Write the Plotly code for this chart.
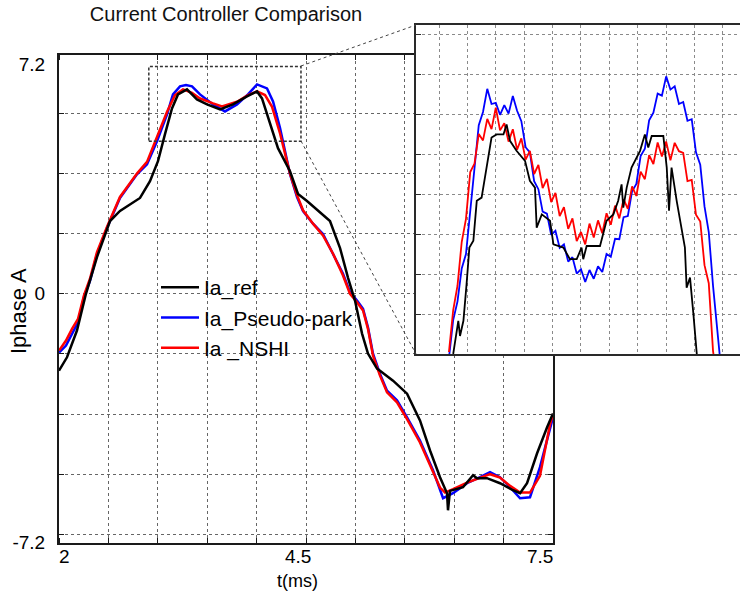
import plotly.graph_objects as go

# ---------------- data: main plot (t in ms, current in A) ----------------
t_ref = [2.000, 2.089, 2.200, 2.300, 2.423, 2.568, 2.679, 2.902, 3.013, 3.102, 3.180,
         3.258, 3.325, 3.425, 3.536, 3.648, 3.793, 3.937, 4.093, 4.205, 4.260, 4.349,
         4.438, 4.572, 4.661, 4.761, 4.828, 5.017, 5.129, 5.218, 5.296, 5.374, 5.440,
         5.541, 5.574, 5.719, 5.875, 6.019, 6.131, 6.242, 6.320, 6.331, 6.353, 6.498,
         6.610, 6.654, 6.765, 6.910, 7.055, 7.133, 7.211, 7.322, 7.433, 7.500]
ia_ref = [-2.30, -1.90, -1.10, 0.00, 1.10, 2.18, 2.48, 2.87, 3.37, 3.97, 4.78,
          5.55, 5.97, 6.12, 5.82, 5.67, 5.52, 5.67, 5.91, 6.06, 5.85, 5.07,
          4.36, 3.67, 2.99, 2.78, 2.63, 2.18, 1.37, 0.48, -0.21, -1.19, -1.79,
          -2.24, -2.30, -2.60, -2.99, -3.79, -4.69, -5.49, -5.97, -6.48, -5.90, -5.79,
          -5.43, -5.52, -5.52, -5.67, -5.88, -5.97, -5.67, -4.78, -4.00, -3.58]

t_pp = [2.000, 2.078, 2.145, 2.212, 2.278, 2.345, 2.423, 2.534, 2.679, 2.868, 2.980,
        3.091, 3.203, 3.269, 3.347, 3.414, 3.481, 3.570, 3.715, 3.848, 3.982, 4.104,
        4.205, 4.316, 4.383, 4.461, 4.572, 4.650, 4.717, 4.828, 4.939, 5.051, 5.162,
        5.240, 5.318, 5.385, 5.440, 5.496, 5.574, 5.652, 5.763, 5.875, 6.019, 6.164,
        6.242, 6.276, 6.387, 6.543, 6.687, 6.799, 6.910, 7.022, 7.133, 7.244, 7.355,
        7.467, 7.500]
ia_pp = [-1.76, -1.55, -1.20, -0.85, -0.10, 0.39, 1.19, 1.97, 2.87, 3.58, 3.88,
         4.57, 5.37, 5.97, 6.21, 6.25, 6.21, 5.97, 5.67, 5.46, 5.67, 5.97,
         6.27, 6.15, 5.76, 4.96, 3.58, 2.90, 2.48, 2.10, 1.79, 1.19, 0.60,
         0.05, -0.20, -0.45, -1.00, -1.79, -2.40, -2.90, -3.19, -3.70, -4.39, -5.28,
         -5.88, -6.12, -5.97, -5.67, -5.49, -5.34, -5.49, -5.79, -6.12, -6.09, -5.19,
         -4.00, -3.70]

t_nshi = [2.000, 2.078, 2.145, 2.212, 2.278, 2.345, 2.423, 2.534, 2.679, 2.868, 2.980,
          3.091, 3.203, 3.292, 3.381, 3.481, 3.570, 3.715, 3.815, 3.982, 4.104, 4.205,
          4.294, 4.372, 4.461, 4.572, 4.650, 4.717, 4.828, 4.939, 5.051, 5.162, 5.240,
          5.318, 5.385, 5.440, 5.496, 5.574, 5.652, 5.763, 5.875, 6.019, 6.164, 6.242,
          6.298, 6.387, 6.543, 6.687, 6.799, 6.910, 7.022, 7.133, 7.244, 7.355, 7.467,
          7.500]
ia_nshi = [-1.70, -1.40, -1.05, -0.75, -0.05, 0.45, 1.25, 2.00, 2.90, 3.60, 3.95,
           4.70, 5.45, 5.95, 6.12, 6.02, 5.85, 5.70, 5.61, 5.75, 5.95, 6.06,
           5.95, 5.60, 4.80, 3.60, 2.95, 2.50, 2.10, 1.75, 1.20, 0.55, 0.00,
           -0.25, -0.50, -1.05, -1.85, -2.45, -2.95, -3.25, -3.75, -4.45, -5.30, -5.80,
           -5.95, -5.85, -5.65, -5.50, -5.40, -5.50, -5.75, -5.95, -5.95, -5.45, -3.90,
           -3.60]

# ---------------- data: zoomed inset (grid units) ----------------
inset_u = [0.35, 0.50, 0.65, 0.80, 0.95, 1.10, 1.25, 1.40, 1.55, 1.70, 1.85, 2.00, 2.15,
           2.30, 2.45, 2.60, 2.75, 2.90, 3.05, 3.20, 3.35, 3.50, 3.65, 3.80, 3.95, 4.10,
           4.25, 4.40, 4.55, 4.70, 4.85, 5.00, 5.15, 5.30, 5.45, 5.60, 5.75, 5.90, 6.05,
           6.20, 6.35, 6.50, 6.65, 6.80, 6.95, 7.10, 7.25, 7.40, 7.55, 7.70, 7.85, 8.00,
           8.15, 8.30, 8.45, 8.60, 8.75, 8.90, 9.05, 9.20, 9.35, 9.50, 9.65, 9.80, 9.95]
inset_pp = [-0.10, 0.85, 1.31, 2.14, 2.50, 3.54, 4.53, 5.72, 6.05, 6.63, 6.25, 6.28, 5.98,
            6.22, 6.01, 6.45, 6.08, 5.82, 5.17, 5.04, 4.32, 4.12, 3.56, 3.51, 2.98, 3.08,
            2.65, 2.74, 2.31, 2.42, 2.01, 2.12, 1.80, 2.10, 1.88, 2.19, 2.05, 2.50, 2.43,
            2.88, 2.87, 3.42, 3.45, 4.07, 4.25, 4.95, 5.13, 5.84, 6.03, 6.51, 6.46, 6.94,
            6.61, 6.69, 6.25, 6.30, 5.83, 5.87, 5.04, 4.73, 3.69, 3.05, 1.71, 0.52, -0.50]
inset_nshi = [0.05, 1.10, 1.70, 2.80, 3.38, 4.55, 4.76, 5.50, 5.34, 5.88, 5.62, 6.16, 5.59,
              5.77, 5.31, 5.62, 5.11, 5.39, 4.86, 5.08, 4.50, 4.73, 4.15, 4.38, 3.80, 4.03,
              3.45, 3.67, 3.13, 3.39, 2.82, 3.05, 2.74, 3.26, 2.91, 3.34, 3.02, 3.52, 3.23,
              3.71, 3.39, 3.87, 3.63, 4.19, 3.95, 4.56, 4.37, 4.97, 4.75, 5.29, 4.94, 5.31,
              4.84, 5.28, 5.07, 5.03, 4.32, 4.35, 3.48, 3.31, 2.22, 1.77, 0.08, -0.80, -1.50]
inset_u_ref = [0.50, 0.68, 0.74, 0.86, 0.97, 1.07, 1.21, 1.33, 1.50, 1.68, 1.85, 2.03, 2.27,
               2.38, 2.50, 2.73, 3.03, 3.20, 3.38, 3.44, 3.62, 3.91, 4.03, 4.38, 4.61, 4.85,
               5.02, 5.08, 5.20, 5.67, 5.90, 6.14, 6.31, 6.43, 6.49, 6.61, 6.78, 7.08, 7.25,
               7.37, 7.49, 7.90, 8.02, 8.10, 8.19, 8.37, 8.54, 8.66, 8.72, 8.84, 8.96, 9.07,
               9.15]
inset_ref = [0.00, 0.83, 0.45, 0.83, 1.74, 2.66, 2.83, 3.83, 3.91, 4.66, 5.41, 5.49, 5.49,
             5.74, 5.33, 5.08, 4.83, 4.33, 4.16, 3.16, 3.49, 3.33, 2.74, 2.66, 2.37, 2.37,
             2.66, 2.37, 2.70, 2.70, 3.33, 3.49, 3.83, 4.24, 3.66, 4.16, 4.66, 5.08, 5.49,
             5.16, 5.45, 5.45, 4.66, 3.58, 4.66, 3.83, 3.16, 2.66, 1.66, 1.91, 0.99, 0.00,
             -0.60]

series_names = ["Ia_ref", "Ia_Pseudo-park", "Ia _NSHI"]
series_colors = ["#000000", "#0000ff", "#ff0000"]

x_tick_labels = ["2", "4.5", "7.5"]
x_tick_pos = [2.056, 4.66, 7.355]
y_tick_labels = ["7.2", "0", "-7.2"]
y_tick_pos = [6.87, 0.0, -7.44]

W, H = 740, 596
HV = 585.0  # effective vertical pixel scale of the captured page
FONT = "Liberation Sans, Arial, sans-serif"


def px(p):
    return p / W


def py(p):
    return 1 - p / HV


fig = go.Figure()

# main traces (draw blue, red, then black on top; legend order ref, pp, nshi)
main_sets = [(t_pp, ia_pp, 1), (t_nshi, ia_nshi, 2), (t_ref, ia_ref, 0)]
for tx, yv, k in main_sets:
    fig.add_trace(go.Scatter(x=tx, y=yv, mode="lines", name=series_names[k],
                             line=dict(color=series_colors[k], width=2.5),
                             legendrank=k + 1, xaxis="x", yaxis="y"))

# inset traces
inset_sets = [(inset_u, inset_pp, 1), (inset_u, inset_nshi, 2), (inset_u_ref, inset_ref, 0)]
for tx, yv, k in inset_sets:
    fig.add_trace(go.Scatter(x=tx, y=yv, mode="lines", showlegend=False,
                             line=dict(color=series_colors[k], width=1.8),
                             xaxis="x2", yaxis="y2"))

grid_main = "#666666"
grid_inset = "#8a8a8a"
fig.update_layout(
    width=W, height=H,
    margin=dict(l=0, r=0, t=0, b=0),
    paper_bgcolor="white", plot_bgcolor="white",
    font=dict(family=FONT, color="black", size=19),
    title=dict(text="Current Controller Comparison", x=px(226), y=py(13),
               xanchor="center", yanchor="middle", xref="paper", yref="paper",
               font=dict(size=20, family=FONT, color="#111")),
    showlegend=True,
    legend=dict(x=px(156), y=py(266), xanchor="left", yanchor="top",
                bgcolor="rgba(0,0,0,0)", font=dict(size=21, family=FONT),
                tracegroupgap=0, itemwidth=38),
    xaxis=dict(domain=[px(59), px(553)], range=[2, 7.5], showline=True, mirror="allticks",
               linecolor="#1a1a1a", linewidth=2, showgrid=False, zeroline=False,
               tickvals=x_tick_pos, showticklabels=False, ticks="",
               minor=dict(tick0=2, dtick=0.55, showgrid=True, gridcolor=grid_main,
                          griddash="dot", gridwidth=1, ticks="inside", ticklen=5,
                          tickcolor="#1a1a1a")),
    yaxis=dict(domain=[py(542), py(54)], range=[-7.46, 7.15], showline=True, mirror="allticks",
               linecolor="#1a1a1a", linewidth=2, showgrid=False, zeroline=False,
               tickvals=y_tick_pos, ticktext=y_tick_labels, ticks="",
               tickfont=dict(size=19), ticklabelstandoff=8,
               minor=dict(tick0=0, dtick=1.8, showgrid=True, gridcolor=grid_main,
                          griddash="dot", gridwidth=1, ticks="inside", ticklen=5,
                          tickcolor="#1a1a1a")),
    xaxis2=dict(domain=[px(416), 1.0], range=[-0.81, 10.6], showline=True, mirror=True,
                linecolor="#2a2a2a", linewidth=2, showgrid=True, gridcolor=grid_inset,
                griddash="dot", gridwidth=1, zeroline=False, showticklabels=False,
                tick0=0, dtick=1, ticks="", anchor="y2"),
    yaxis2=dict(domain=[py(353), py(24)], range=[0, 8.225], showline=True, mirror=False,
                linecolor="#2a2a2a", linewidth=2, showgrid=True, gridcolor=grid_inset,
                griddash="dot", gridwidth=1, zeroline=False, showticklabels=False,
                tick0=0, dtick=1, ticks="inside", ticklen=5, tickcolor="#2a2a2a",
                anchor="x2"),
)

# x tick labels (placed at the reference label positions)
for lbl, xv in zip(x_tick_labels, x_tick_pos):
    fig.add_annotation(text=lbl, xref="x", yref="paper", x=xv, y=py(555),
                       showarrow=False, font=dict(size=19, family=FONT),
                       xanchor="center", yanchor="middle")

# zoom rectangle and connector lines
fig.add_shape(type="rect", xref="x", yref="y", x0=3.0, x1=4.694, y0=4.567, y1=6.806,
              line=dict(color="#333333", width=1.5, dash="3px,2px"), layer="above")
fig.add_shape(type="line", xref="paper", yref="paper", x0=px(301), y0=py(65),
              x1=px(416), y1=py(24), line=dict(color="#444444", width=1, dash="dot"))
fig.add_shape(type="line", xref="paper", yref="paper", x0=px(301), y0=py(140),
              x1=px(416), y1=py(353), line=dict(color="#444444", width=1, dash="dot"))

# axis titles
fig.add_annotation(text="Iphase A", xref="paper", yref="paper", x=px(18), y=py(310),
                   textangle=-90, showarrow=False, font=dict(size=22, family=FONT),
                   xanchor="center", yanchor="middle")
fig.add_annotation(text="t(ms)", xref="paper", yref="paper", x=px(297), y=py(580),
                   showarrow=False, font=dict(size=18, family=FONT),
                   xanchor="center", yanchor="middle")

fig.write_html("out.html")
